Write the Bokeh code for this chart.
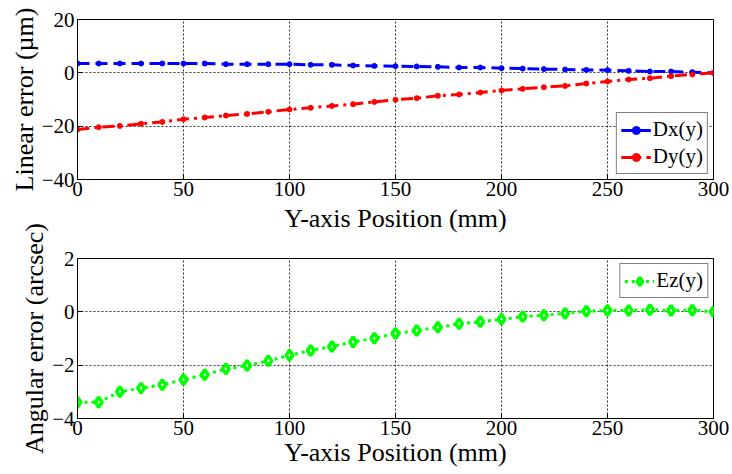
from bokeh.plotting import figure
from bokeh.layouts import column
from bokeh.models import Range1d, FixedTicker, Title
from bokeh.embed import file_html
from bokeh.resources import INLINE

positions = [0, 10, 20, 30, 40, 50, 60, 70, 80, 90, 100, 110, 120, 130, 140, 150,
             160, 170, 180, 190, 200, 210, 220, 230, 240, 250, 260, 270, 280, 290, 300]
dx = [3.5, 3.5, 3.5, 3.5, 3.5, 3.5, 3.5, 3.25, 3.25, 3.25, 3.25, 3.0, 3.0, 2.75, 2.6, 2.5,
      2.4, 2.25, 2.0, 2.0, 1.75, 1.6, 1.4, 1.25, 1.1, 1.0, 0.75, 0.5, 0.5, 0.25, 0.0]
dy = [-21.25, -20.4, -19.9, -19.1, -18.4, -17.4, -16.75, -16.0, -15.4, -14.6, -13.75,
      -13.1, -12.4, -11.75, -10.9, -10.1, -9.5, -8.6, -8.1, -7.4, -6.6, -6.0, -5.4,
      -4.9, -4.0, -3.25, -2.5, -2.0, -1.25, -0.6, 0.0]
ez = [-3.39, -3.39, -3.0, -2.86, -2.74, -2.54, -2.36, -2.14, -2.01, -1.84, -1.63,
      -1.45, -1.3, -1.13, -0.99, -0.81, -0.7, -0.58, -0.45, -0.375, -0.28, -0.18,
      -0.125, -0.06, 0.025, 0.05, 0.05, 0.075, 0.05, 0.06, 0.0]

x_ticks = [0, 50, 100, 150, 200, 250, 300]
top_ticks = [-40, -20, 0, 20]
bottom_ticks = [-4, -2, 0, 2]
x_title = "Y-axis Position (mm)"

FONT = "'Liberation Serif', 'Times New Roman', serif"


def make_fig(yr, yticks, ylabel, top, bottom, xlabel):
    p = figure(width=732, height=240, output_backend="svg", toolbar_location=None,
               x_range=Range1d(0, 300), y_range=Range1d(*yr),
               frame_width=636, frame_height=160,
               min_border_left=77, min_border_right=19,
               min_border_top=top, min_border_bottom=bottom)
    p.outline_line_color = "black"
    p.outline_line_width = 1
    p.background_fill_color = "white"
    p.border_fill_alpha = 0
    p.xaxis.ticker = FixedTicker(ticks=x_ticks)
    p.yaxis.ticker = FixedTicker(ticks=yticks)
    for ax in (p.xaxis[0], p.yaxis[0]):
        ax.major_label_text_font = FONT
        ax.major_label_text_font_size = "21px"
        ax.major_label_text_color = "black"
        ax.axis_label_text_font = FONT
        ax.axis_label_text_font_size = "26px"
        ax.axis_label_text_font_style = "normal"
        ax.axis_label_text_color = "black"
        ax.major_tick_in = 5
        ax.major_tick_out = 0
        ax.minor_tick_line_color = None
        ax.axis_line_color = "black"
        ax.major_tick_line_color = "black"
        ax.major_label_standoff = 3
        ax.axis_label_standoff = 0
    p.xaxis[0].major_label_standoff = 2
    if xlabel:
        p.xaxis.axis_label = xlabel
    p.yaxis.axis_label = ylabel
    p.grid.grid_line_color = "black"
    p.grid.grid_line_dash = "2 2"
    p.grid.grid_line_width = 1
    p.grid.grid_line_alpha = 0.8
    return p


p1 = make_fig((-40, 20), top_ticks, "Linear error (µm)", 19, 24, None)
p1.line(positions, dx, color="#0000FF", line_width=3, line_dash="12 6", legend_label="Dx(y)")
p1.scatter(positions, dx, marker="circle", size=5, color="#0000FF", legend_label="Dx(y)")
p1.line(positions, dy, color="#FF0000", line_width=3, line_dash="12 5 3 5", legend_label="Dy(y)")
p1.scatter(positions, dy, marker="circle", size=5, color="#FF0000", legend_label="Dy(y)")

# lower panel overlaps the empty strip below the upper panel's tick labels
p2 = make_fig((-4, 2), bottom_ticks, "Angular error (arcsec)", 84, 56, x_title)
p2.margin = (-29, 0, 0, 0)
p2.line(positions, ez, color="#00FF00", line_width=3, line_dash="3 4", legend_label="Ez(y)")
p2.scatter(positions, ez, marker="diamond", size=10, line_color="#00FF00", line_width=3.5,
           fill_color="white", legend_label="Ez(y)")

# x-axis title of the upper panel, drawn in the strip above the lower panel
p2.add_layout(Title(text=x_title, align="center", text_font=FONT, text_font_size="26px",
                    text_font_style="normal", text_color="black", standoff=52), "above")

for p, loc in ((p1, "bottom_right"), (p2, "top_right")):
    lg = p.legend[0]
    lg.location = loc
    lg.label_text_font = FONT
    lg.label_text_font_size = "21px"
    lg.label_text_color = "black"
    lg.border_line_color = "black"
    lg.border_line_width = 1
    lg.background_fill_alpha = 1
    lg.glyph_width = 30
    lg.glyph_height = 20
    lg.label_standoff = 2
    lg.spacing = 2
    lg.padding = 4
    lg.margin = 5

layout = column(p1, p2, spacing=0)
open("out.html", "w").write(file_html(layout, INLINE))
